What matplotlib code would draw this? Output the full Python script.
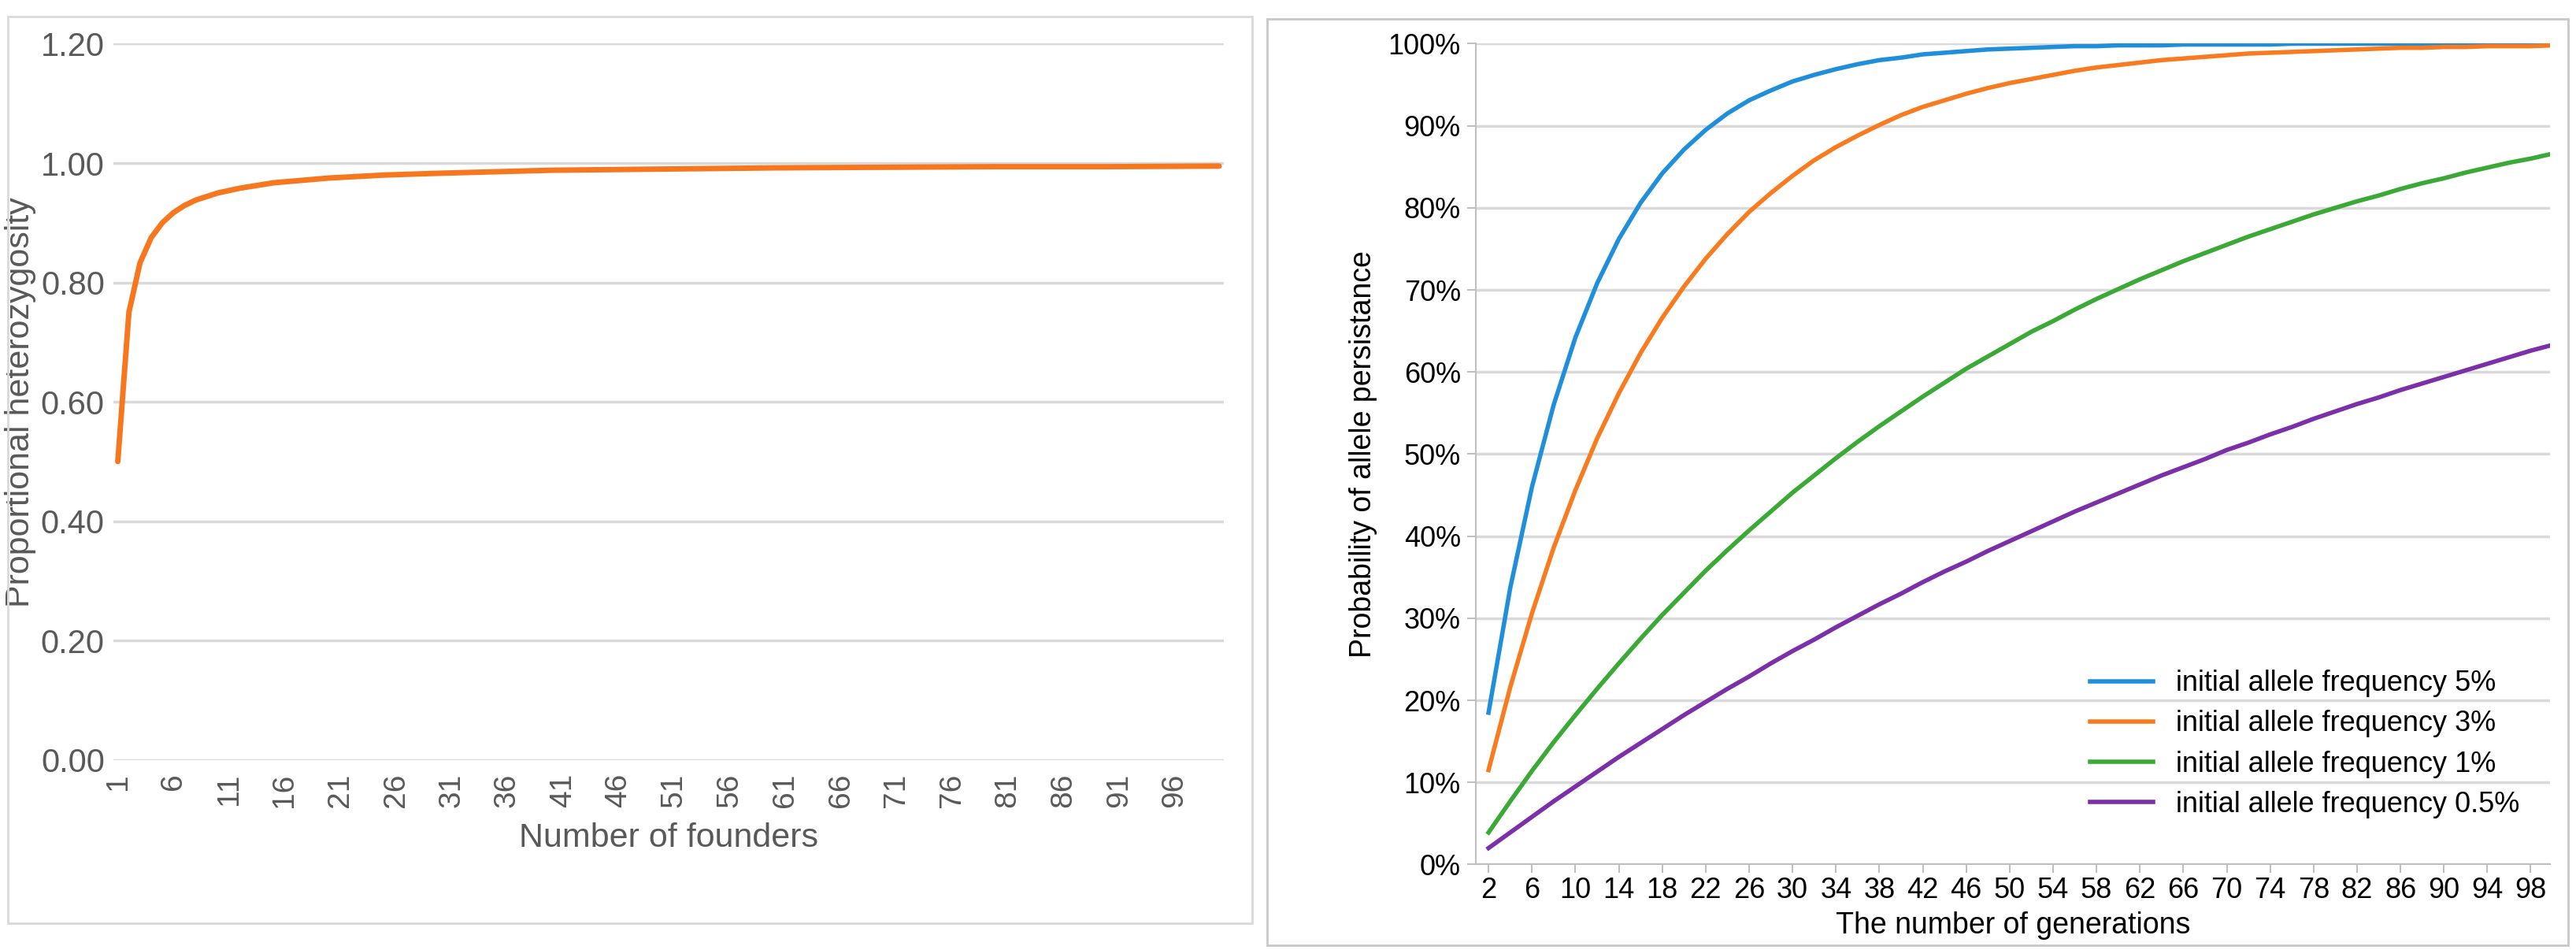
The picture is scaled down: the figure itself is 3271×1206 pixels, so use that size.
import matplotlib
matplotlib.use("Agg")
import matplotlib.pyplot as plt
from matplotlib.patches import Rectangle
from matplotlib.ticker import FuncFormatter

plt.rcParams["font.family"] = ["Liberation Sans", "DejaVu Sans"]

# Left panel: proportional heterozygosity vs number of founders
founders = [1, 2, 3, 4, 5, 6, 7, 8, 10, 12, 15, 20, 25, 30, 40, 50, 60, 70, 80, 90, 100]
heterozygosity = [0.50, 0.75, 0.833, 0.875, 0.90, 0.917, 0.929, 0.938, 0.95, 0.958, 0.967,
                  0.975, 0.98, 0.983, 0.988, 0.99, 0.992, 0.993, 0.994, 0.994, 0.995]

# Right panel: probability of allele persistence vs generations
generations = list(range(2, 101, 2))
p_5 = [0.185, 0.337, 0.460, 0.560, 0.642, 0.708, 0.762, 0.806, 0.842, 0.871,
       0.895, 0.915, 0.931, 0.943, 0.954, 0.962, 0.969, 0.975, 0.980, 0.983,
       0.987, 0.989, 0.991, 0.993, 0.994, 0.995, 0.996, 0.997, 0.997, 0.998,
       0.998, 0.998, 0.999, 0.999, 0.999, 0.999, 0.999, 1.0, 1.0, 1.0,
       1.0, 1.0, 1.0, 1.0, 1.0, 1.0, 1.0, 1.0, 1.0, 1.0]
p_3 = [0.115, 0.216, 0.306, 0.386, 0.456, 0.519, 0.574, 0.623, 0.666, 0.704,
       0.738, 0.768, 0.795, 0.818, 0.839, 0.858, 0.874, 0.888, 0.901, 0.913,
       0.923, 0.931, 0.939, 0.946, 0.952, 0.957, 0.962, 0.967, 0.971, 0.974,
       0.977, 0.980, 0.982, 0.984, 0.986, 0.988, 0.989, 0.990, 0.991, 0.992,
       0.993, 0.994, 0.995, 0.995, 0.996, 0.996, 0.997, 0.997, 0.997, 0.998]
p_1 = [0.039, 0.077, 0.114, 0.149, 0.182, 0.214, 0.245, 0.275, 0.304, 0.331,
       0.358, 0.383, 0.407, 0.430, 0.453, 0.474, 0.495, 0.515, 0.534, 0.552,
       0.570, 0.587, 0.604, 0.619, 0.634, 0.649, 0.662, 0.676, 0.689, 0.701,
       0.713, 0.724, 0.735, 0.745, 0.755, 0.765, 0.774, 0.783, 0.792, 0.800,
       0.808, 0.815, 0.823, 0.830, 0.836, 0.843, 0.849, 0.855, 0.860, 0.866]
p_05 = [0.020, 0.039, 0.058, 0.077, 0.095, 0.113, 0.131, 0.148, 0.165, 0.182,
        0.198, 0.214, 0.229, 0.245, 0.260, 0.274, 0.289, 0.303, 0.317, 0.330,
        0.344, 0.357, 0.369, 0.382, 0.394, 0.406, 0.418, 0.430, 0.441, 0.452,
        0.463, 0.474, 0.484, 0.494, 0.505, 0.514, 0.524, 0.533, 0.543, 0.552,
        0.561, 0.569, 0.578, 0.586, 0.594, 0.602, 0.610, 0.618, 0.626, 0.633]
series = [("initial allele frequency 5%", p_5, "#1f8fdc"),
          ("initial allele frequency 3%", p_3, "#f97b1f"),
          ("initial allele frequency 1%", p_1, "#3aa935"),
          ("initial allele frequency 0.5%", p_05, "#7b2fa8")]

fig = plt.figure(figsize=(32.71, 12.06), dpi=100)

# panel borders
fig.add_artist(Rectangle((0.003, 0.028), 0.483, 0.955, transform=fig.transFigure,
                         fill=False, edgecolor="#d9d9d9", linewidth=2))
fig.add_artist(Rectangle((0.492, 0.005), 0.505, 0.975, transform=fig.transFigure,
                         fill=False, edgecolor="#c8c8c8", linewidth=2))

# ---- left panel
gray = "#595959"
ax1 = fig.add_axes([0.044, 0.200, 0.431, 0.754])
ax1.plot(founders, heterozygosity, color="#f7771f", linewidth=5, solid_capstyle="round")
ax1.set_ylim(0, 1.2)
ax1.set_xlim(0.6, 100.4)
ax1.set_yticks([0, 0.2, 0.4, 0.6, 0.8, 1.0, 1.2])
ax1.yaxis.set_major_formatter(FuncFormatter(lambda v, p: f"{v:.2f}"))
ax1.set_xticks(range(1, 97, 5))
ax1.tick_params(axis="x", labelrotation=90, length=0, labelsize=28, colors=gray, pad=12)
ax1.tick_params(axis="y", length=0, labelsize=30, colors=gray, pad=8)
ax1.grid(axis="y", color="#d9d9d9", linewidth=2.5)
for s in ax1.spines.values():
    s.set_visible(False)
ax1.set_xlabel("Number of founders", fontsize=31, color=gray, labelpad=14)
ax1.set_ylabel("Proportional heterozygosity", fontsize=31, color=gray, labelpad=4)

# ---- right panel
ax2 = fig.add_axes([0.573, 0.090, 0.417, 0.864])
for label, vals, col in series:
    ax2.plot(generations, vals, color=col, linewidth=4, label=label)
ax2.set_ylim(0, 1.0)
ax2.set_xlim(0.85, 99.8)
ax2.set_yticks([i / 10 for i in range(11)])
ax2.yaxis.set_major_formatter(FuncFormatter(lambda v, p: f"{v * 100:.0f}%"))
ax2.set_xticks(range(2, 99, 4))
ax2.tick_params(axis="both", labelsize=26, colors="black", length=8, width=1.5,
                color="#bfbfbf")
ax2.tick_params(axis="y", pad=6)
ax2.grid(axis="y", color="#d9d9d9", linewidth=2.5)
for side in ("top", "right"):
    ax2.spines[side].set_visible(False)
for side in ("left", "bottom"):
    ax2.spines[side].set_color("#bfbfbf")
    ax2.spines[side].set_linewidth(1.5)
ax2.set_xlabel("The number of generations", fontsize=27, labelpad=6)
ax2.set_ylabel("Probability of allele persistance", fontsize=27, labelpad=10)
ax2.legend(loc="lower right", bbox_to_anchor=(0.995, 0.025), fontsize=26, frameon=False,
           handlelength=2.2, labelspacing=0.45)

fig.savefig("out.png", dpi=100, facecolor="white")
